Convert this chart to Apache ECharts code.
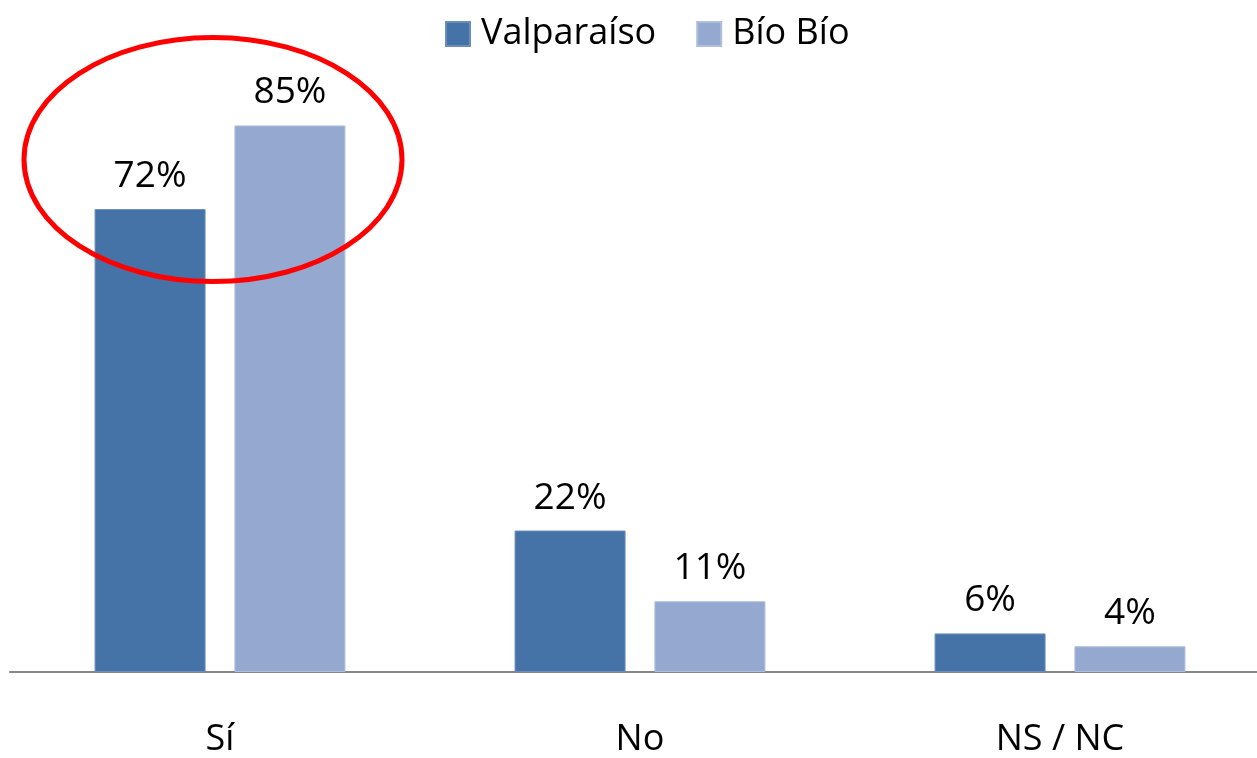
<!DOCTYPE html>
<html>
<head>
<meta charset="utf-8">
<script src="https://cdn.jsdelivr.net/npm/echarts@6/dist/echarts.min.js"></script>
<style>
  html, body { margin: 0; padding: 0; background: #fff; }
  #chart { width: 1257px; height: 758px; }
</style>
</head>
<body>
<div id="chart"></div>
<script>
// datos
const categorias = ['Sí', 'No', 'NS / NC']
const valparaiso = [72, 22, 6]
const bioBio = [85, 11, 4]

const fuente = 'Open Sans'
const chart = echarts.init(document.getElementById('chart'))

chart.setOption({
    animation: false,
    textStyle: { fontFamily: fuente },
    legend: {
        left: 440,
        top: 11,
        itemWidth: 24,
        itemHeight: 24,
        itemGap: 40,
        icon: 'rect',
        textStyle: { fontSize: 36, color: '#000', padding: [0, 0, 0, 6] },
        data: ['Valparaíso', 'Bío Bío']
    },
    grid: {
        left: 10,
        right: -13,
        top: 29,
        bottom: 86,
        outerBoundsMode: 'none',
        containLabel: false
    },
    xAxis: {
        type: 'category',
        data: categorias,
        axisLine: { lineStyle: { color: '#868686', width: 2 } },
        axisTick: { show: false },
        axisLabel: { fontSize: 36, color: '#000', margin: 50 }
    },
    yAxis: {
        type: 'value',
        min: 0,
        max: 100,
        show: false,
        splitLine: { show: false }
    },
    series: [
        {
            name: 'Valparaíso',
            type: 'bar',
            data: valparaiso,
            barWidth: 111,
            barGap: '26%',
            itemStyle: { color: '#4673A7', borderColor: '#6D8EBB', borderWidth: 1 },
            label: {
                show: true,
                position: 'top',
                distance: 14,
                fontSize: 37,
                color: '#000',
                formatter: '{c}%'
            }
        },
        {
            name: 'Bío Bío',
            type: 'bar',
            data: bioBio,
            barWidth: 111,
            itemStyle: { color: '#95A9D0', borderColor: '#AEBEDC', borderWidth: 1 },
            label: {
                show: true,
                position: 'top',
                distance: 14,
                fontSize: 37,
                color: '#000',
                formatter: '{c}%'
            }
        }
    ]
})

// óvalo rojo que resalta el grupo "Sí"
const centro = chart.convertToPixel({ xAxisIndex: 0, yAxisIndex: 0 }, ['Sí', 80])
chart.setOption({
    graphic: [{
        type: 'ellipse',
        shape: { cx: centro[0] - 7, cy: centro[1] + 2, rx: 189, ry: 122 },
        style: { fill: 'none', stroke: '#FF0000', lineWidth: 5 },
        z: 100
    }]
})
</script>
</body>
</html>
